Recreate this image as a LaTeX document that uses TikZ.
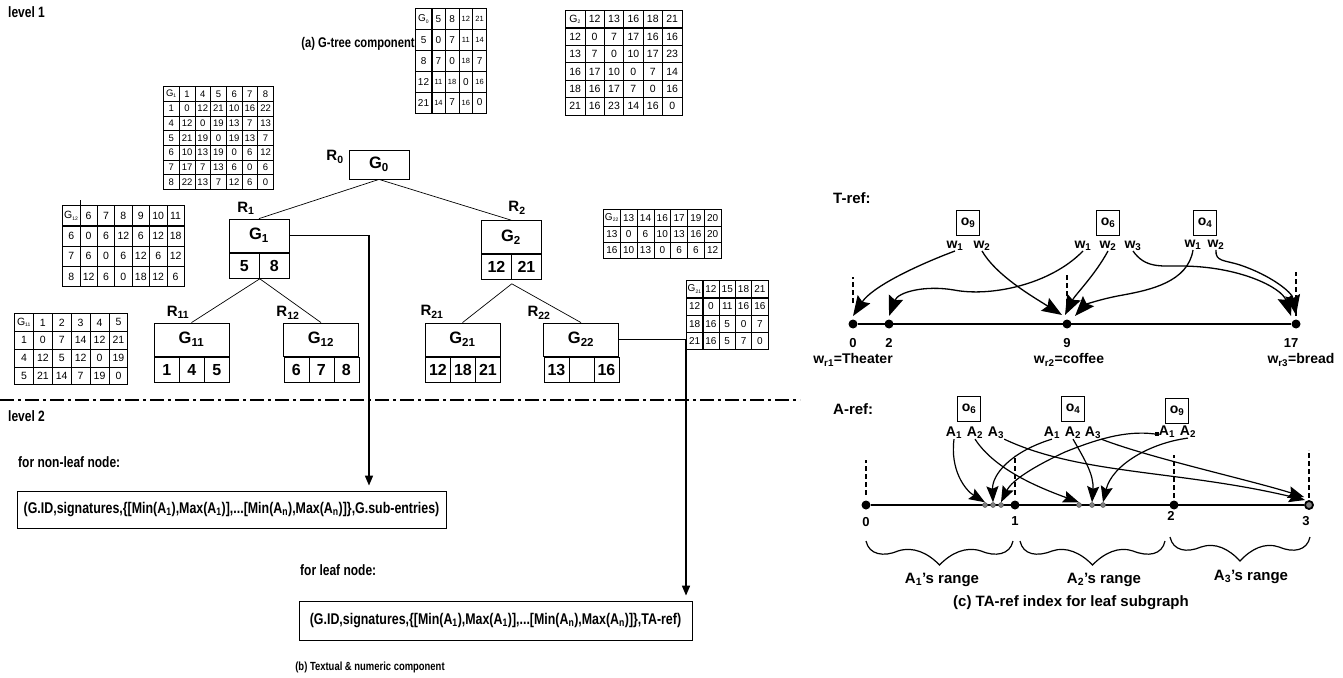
\documentclass[tikz,border=0pt]{standalone}
\usepackage{fontspec}
\setmainfont{Liberation Sans}
\newfontfamily\narrowfont[FakeStretch=0.8]{Liberation Sans}
\usetikzlibrary{matrix,arrows.meta,calc}
\newcommand\smn[1]{{\fontsize{7.5}{7.5}\selectfont #1}}
\newcommand\tsub[1]{\textsubscript{\fontsize{5}{5}\selectfont #1}}
\tikzset{
  bighead/.tip={Stealth[length=20pt,width=15pt,inset=3pt]},
  midhead/.tip={Stealth[length=16pt,width=12pt,inset=2.5pt]},
  feedhead/.tip={Triangle[length=10pt,width=8pt]},
}
\begin{document}
\begin{tikzpicture}[x=1pt,y=-1pt,
  nlab/.style={inner sep=0, font=\narrowfont\fontsize{15}{16}\selectfont\bfseries},
  boxtxt/.style={draw, line width=0.8, inner sep=0, font=\narrowfont\fontsize{15.5}{16}\selectfont\bfseries},
  gbox/.style={draw, line width=0.8, minimum height=33, inner sep=0, font=\fontsize{16.5}{16.5}\selectfont\bfseries},
  gcell/.style={draw, line width=0.8, minimum height=25, inner sep=0, anchor=north west, font=\fontsize{16}{16}\selectfont\bfseries},
  rlab/.style={inner sep=0, font=\fontsize{15}{15}\selectfont\bfseries},
  mat/.style={matrix of nodes, anchor=north west, inner sep=0, column sep=-0.6pt, row sep=-0.6pt,
     nodes={draw, line width=0.7, inner sep=0, anchor=center, font=\fontsize{9.5}{9.5}\selectfont}},
  hsep/.style={line width=1.3},
  tline/.style={line width=0.7},
  feed/.style={line width=1.6, -feedhead},
  rtxt/.style={inner sep=0, font=\fontsize{14}{14}\selectfont\bfseries},
  rnum/.style={inner sep=0, font=\fontsize{13}{13}\selectfont\bfseries},
  rhead/.style={inner sep=0, font=\fontsize{15}{15}\selectfont\bfseries},
  obox/.style={draw, line width=0.8, minimum width=23, minimum height=25, inner sep=0, font=\fontsize{14}{14}\selectfont\bfseries},
  tarr/.style={line width=1.3, -bighead},
  aarr/.style={line width=1.2, -midhead},
  bdot/.style={circle, fill, inner sep=0, minimum size=9},
  sdot/.style={circle, fill=gray, draw=black!70, line width=0.4, inner sep=0, minimum size=5},
  vtick/.style={line width=1.2, dash pattern=on 5pt off 3pt},
  axis/.style={line width=1.4},
  wline/.style={line width=1.2},
]
\useasboundingbox (0,0) rectangle (1343,677);

% ---------------- level 1 ----------------
\node[nlab, anchor=west] (lv1) at (8,12) {level 1};
\node[nlab, font=\narrowfont\fontsize{14}{15}\selectfont\bfseries] (capa) at (358,44) {(a) G-tree component};

% matrices
\matrix (m1) [mat, nodes={minimum width=15.6, minimum height=14.6}] at (163,86) {
G\tsub{1} & 1 & 4 & 5 & 6 & 7 & 8\\
1 & 0 & 12 & 21 & 10 & 16 & 22\\
4 & 12 & 0 & 19 & 13 & 7 & 13\\
5 & 21 & 19 & 0 & 19 & 13 & 7\\
6 & 10 & 13 & 19 & 0 & 6 & 12\\
7 & 17 & 7 & 13 & 6 & 0 & 6\\
8 & 22 & 13 & 7 & 12 & 6 & 0\\
};
\draw[hsep] (m1-1-1.south west) -- (m1-1-7.south east);
\draw[hsep] (m1-1-1.north east) -- (m1-7-1.south east);

\matrix (m0) [mat, nodes={minimum width=13.6, minimum height=20.8, font=\fontsize{10}{10}\selectfont},
  column 1/.style={nodes={minimum width=16}}] at (415,8) {
G\tsub{0} & 5 & 8 & \smn{12} & \smn{21}\\
5 & 0 & 7 & \smn{11} & \smn{14}\\
8 & 7 & 0 & \smn{18} & 7\\
12 & \smn{11} & \smn{18} & 0 & \smn{16}\\
21 & \smn{14} & 7 & \smn{16} & 0\\
};
\draw[hsep] (m0-1-1.north east) -- (m0-5-1.south east);

\matrix (m2) [mat, nodes={minimum width=19.3, minimum height=17.3, font=\fontsize{10.5}{10.5}\selectfont}] at (565,10) {
G\tsub{2} & 12 & 13 & 16 & 18 & 21\\
12 & 0 & 7 & 17 & 16 & 16\\
13 & 7 & 0 & 10 & 17 & 23\\
16 & 17 & 10 & 0 & 7 & 14\\
18 & 16 & 17 & 7 & 0 & 16\\
21 & 16 & 23 & 14 & 16 & 0\\
};
\draw[hsep] (m2-1-1.north east) -- (m2-6-1.south east);

\matrix (m12) [mat, nodes={minimum width=17.3, minimum height=20.2, font=\fontsize{10.5}{10.5}\selectfont}] at (62,205) {
G\tsub{12} & 6 & 7 & 8 & 9 & 10 & 11\\
6 & 0 & 6 & 12 & 6 & 12 & 18\\
7 & 6 & 0 & 6 & 12 & 6 & 12\\
8 & 12 & 6 & 0 & 18 & 12 & 6\\
};
\draw[hsep] (m12-1-1.south west) -- (m12-1-7.south east);
\draw[hsep] ($(m12-1-1.north east)+(0,-5)$) -- (m12-4-1.south east);

\matrix (m11) [mat, nodes={minimum width=18.8, minimum height=17.7, font=\fontsize{10.5}{10.5}\selectfont}] at (14,313) {
G\tsub{11} & 1 & 2 & 3 & 4 & 5\\
1 & 0 & 7 & 14 & 12 & 21\\
4 & 12 & 5 & 12 & 0 & 19\\
5 & 21 & 14 & 7 & 19 & 0\\
};
\draw[hsep] (m11-1-1.south west) -- (m11-1-6.south east);
\draw[hsep] (m11-1-1.north east) -- (m11-4-1.south east);

\matrix (m22) [mat, nodes={minimum width=16.7, minimum height=16.3, font=\fontsize{10}{10}\selectfont}] at (603,209) {
G\tsub{22} & 13 & 14 & 16 & 17 & 19 & 20\\
13 & 0 & 6 & 10 & 13 & 16 & 20\\
16 & 10 & 13 & 0 & 6 & 6 & 12\\
};
\draw[hsep] (m22-1-1.north east) -- (m22-3-1.south east);

\matrix (m21) [mat, nodes={minimum width=16.2, minimum height=17.2, font=\fontsize{10}{10}\selectfont}] at (686,280) {
G\tsub{21} & 12 & 15 & 18 & 21\\
12 & 0 & 11 & 16 & 16\\
18 & 16 & 5 & 0 & 7\\
21 & 16 & 5 & 7 & 0\\
};
\draw[hsep] (m21-1-1.south west) -- (m21-1-5.south east);

% tree
\node[gbox, minimum width=60, minimum height=29] (G0) at (379,164.5) {G\textsubscript{0}};
\node[rlab] (R0) at (335,157) {R\textsubscript{0}};

\node[gbox, minimum width=60] (G1) at (259,235.5) {G\textsubscript{1}};
\node[gcell, minimum width=30] (G1a) at (229,253) {5};
\node[gcell, minimum width=30] (G1b) at (259,253) {8};
\node[rlab] (R1) at (246,208) {R\textsubscript{1}};

\node[gbox, minimum width=60] (G2) at (511,237) {G\textsubscript{2}};
\node[gcell, minimum width=30] (G2a) at (481,254) {12};
\node[gcell, minimum width=30] (G2b) at (511,254) {21};
\node[rlab] (R2) at (517,208) {R\textsubscript{2}};

\node[gbox, minimum width=75] (G11) at (191.5,339.5) {G\textsubscript{11}};
\node[gcell, minimum width=25] (G11a) at (154,357) {1};
\node[gcell, minimum width=25] (G11b) at (179,357) {4};
\node[gcell, minimum width=25] (G11c) at (204,357) {5};
\node[rlab] (R11) at (178,312) {R\textsubscript{11}};

\node[gbox, minimum width=75] (G12) at (321,339.5) {G\textsubscript{12}};
\node[gcell, minimum width=25] (G12a) at (283.5,357) {6};
\node[gcell, minimum width=25] (G12b) at (308.5,357) {7};
\node[gcell, minimum width=25] (G12c) at (333.5,357) {8};
\node[rlab] (R12) at (288,313) {R\textsubscript{12}};

\node[gbox, minimum width=75] (G21) at (462.5,339.5) {G\textsubscript{21}};
\node[gcell, minimum width=25] (G21a) at (425,357) {12};
\node[gcell, minimum width=25] (G21b) at (450,357) {18};
\node[gcell, minimum width=25] (G21c) at (475,357) {21};
\node[rlab] (R21) at (432,312) {R\textsubscript{21}};

\node[gbox, minimum width=75] (G22) at (581,339.5) {G\textsubscript{22}};
\node[gcell, minimum width=25] (G22a) at (543.5,357) {13};
\node[gcell, minimum width=25] (G22b) at (568.5,357) {};
\node[gcell, minimum width=25] (G22c) at (593.5,357) {16};
\node[rlab] (R22) at (539,313) {R\textsubscript{22}};

\draw[tline] (G0.south) -- (G1.north);
\draw[tline] (G0.south) -- (G2.north);
\draw[tline] (G1a.south east) -- (G11.north);
\draw[tline] (G1a.south east) -- (G12.north);
\coordinate (G2j) at ($(G2a.south east)+(0,4)$);
\draw[tline] (G2j) -- (G21.north);
\draw[tline] (G2j) -- (G22.north);

% separator
\coordinate (dl1) at (0,400);
\coordinate (dl2) at (800,400);
\draw[line width=1.3, dash pattern=on 14pt off 4pt on 3pt off 4pt] (dl1) -- (dl2);

% ---------------- level 2 ----------------
\node[nlab, anchor=west] (lv2) at (8,416) {level 2};
\node[nlab, anchor=west] (fnl) at (18,462) {for non-leaf node:};
\node[boxtxt, minimum width=429, minimum height=37] (NL) at (231.5,509.5)
  {(G.ID,signatures,\{[Min(A\textsubscript{1}),Max(A\textsubscript{1})],...[Min(A\textsubscript{n}),Max(A\textsubscript{n})]\},G.sub-entries)};
\node[nlab, anchor=west] (fl) at (300,570) {for leaf node:};
\node[boxtxt, minimum width=393, minimum height=39] (LF) at (495.5,620.5)
  {(G.ID,signatures,\{[Min(A\textsubscript{1}),Max(A\textsubscript{1})],...[Min(A\textsubscript{n}),Max(A\textsubscript{n})]\},TA-ref)};
\node[nlab, font=\narrowfont\fontsize{11.8}{13}\selectfont\bfseries] (capb) at (370,667) {(b) Textual \& numeric component};

\coordinate (c1) at (369,0);
\coordinate (c2) at (686,0);
\draw[feed] (G1.east) -| ($(c1 |- NL.north)+(0,-5)$);
\draw[feed] (G22.east) -| ($(c2 |- LF.north)+(0,-5)$);

% ---------------- T-ref ----------------
\node[rhead, anchor=west] (tref) at (833,198) {T-ref:};
\node[obox] (o9) at (968,223) {o\textsubscript{9}};
\node[obox] (o6) at (1108,223) {o\textsubscript{6}};
\node[obox] (o4) at (1205,223) {o\textsubscript{4}};
\node[rtxt] (o9w1) at (955,246) {w\textsubscript{1}};
\node[rtxt] (o9w2) at (982,246) {w\textsubscript{2}};
\node[rtxt] (o6w1) at (1083,246) {w\textsubscript{1}};
\node[rtxt] (o6w2) at (1108,246) {w\textsubscript{2}};
\node[rtxt] (o6w3) at (1133,246) {w\textsubscript{3}};
\node[rtxt] (o4w1) at (1193,245) {w\textsubscript{1}};
\node[rtxt] (o4w2) at (1216,245) {w\textsubscript{2}};

\node[bdot] (t0) at (853,324) {};
\node[bdot] (t2) at (889,324) {};
\node[bdot] (t9) at (1067,324) {};
\node[bdot] (t17) at (1296,324) {};
\draw[axis] (t0) -- (t17);
\draw[vtick] ($(t0)+(0,-21)$) -- ($(t0)+(0,-47)$);
\draw[vtick] ($(t9)+(0,-12)$) -- ($(t9)+(0,-49)$);
\draw[vtick] ($(t17)+(0,-8)$) -- ($(t17)+(0,-52)$);
\node[rnum] (l0) at (853,343) {0};
\node[rnum] (l2) at (889,343) {2};
\node[rnum] (l9) at (1067,343) {9};
\node[rnum] (l17) at (1291,343) {17};
\node[rtxt] (wr1) at (853,360) {w\textsubscript{r1}=Theater};
\node[rtxt] (wr2) at (1069,360) {w\textsubscript{r2}=coffee};
\node[rtxt] (wr3) at (1301,360) {w\textsubscript{r3}=bread};

\draw[tarr] (o9w1.south) .. controls (915,266) and (872,287) .. ($(t0)+(0,-8)$);
\draw[tarr] (o9w2.south) .. controls (996,275) and (1030,295) .. ($(t9)+(-5,-9)$);
\draw[tarr] (o6w1.south) .. controls (1050,285) and (990,297) .. (954,290) .. controls (925,285) and (898,292) .. ($(t2)+(0,-8)$);
\draw[tarr] (o6w2.south) .. controls (1095,275) and (1075,295) .. ($(t9)+(-2,-9)$);
\draw[tarr] (o6w3.south) .. controls (1145,268) and (1160,266) .. (1180,266) .. controls (1240,266) and (1282,288) .. ($(t17)+(-5,-8)$);
\draw[tarr] (o4w1.south) .. controls (1188,282) and (1150,290) .. (1123,295) .. controls (1100,299) and (1085,305) .. ($(t9)+(8,-8)$);
\draw[tarr] (o4w2.south) .. controls (1215,262) and (1225,260) .. (1240,265) .. controls (1270,275) and (1292,292) .. ($(t17)+(0,-9)$);

% ---------------- A-ref ----------------
\node[rhead, anchor=west] (aref) at (833,409) {A-ref:};
\node[obox] (p6) at (969,409) {o\textsubscript{6}};
\node[obox] (p4) at (1073,409) {o\textsubscript{4}};
\node[obox] (p9) at (1177,411) {o\textsubscript{9}};
\node[rtxt] (p6a1) at (954,433) {A\textsubscript{1}};
\node[rtxt] (p6a2) at (975,433) {A\textsubscript{2}};
\node[rtxt] (p6a3) at (996,433) {A\textsubscript{3}};
\node[rtxt] (p4a1) at (1052,433) {A\textsubscript{1}};
\node[rtxt] (p4a2) at (1073,433) {A\textsubscript{2}};
\node[rtxt] (p4a3) at (1093,433) {A\textsubscript{3}};
\node[rtxt] (p9a1) at (1167,432) {A\textsubscript{1}};
\node[rtxt] (p9a2) at (1188,432) {A\textsubscript{2}};
\node[fill, inner sep=0, minimum size=3.5] (sq) at (1157,434) {};

\node[bdot] (a0) at (866,505) {};
\node[bdot] (a1) at (1015,505) {};
\node[bdot] (a2) at (1174,505) {};
\node[circle, fill=gray, draw=black, line width=1.8, inner sep=0, minimum size=8] (a3) at (1309,505) {};
\draw[axis] (a0) -- (a3);
\node[sdot] (g1) at (985,505) {};
\node[sdot] (g2) at (993,505) {};
\node[sdot] (g3) at (1001,505) {};
\node[sdot] (h1) at (1079,505) {};
\node[sdot] (h2) at (1092,505) {};
\node[sdot] (h3) at (1103,505) {};
\draw[vtick] ($(a0)+(0,-10)$) -- ($(a0)+(0,-45)$);
\draw[vtick] ($(a1)+(0,-10)$) -- ($(a1)+(0,-50)$);
\draw[vtick] ($(a2)+(0,-7)$) -- ($(a2)+(0,-50)$);
\draw[vtick] ($(a3)+(0,-7)$) -- ($(a3)+(0,-55)$);
\node[rnum] (n0) at (866,522) {0};
\node[rnum] (n1) at (1015,521) {1};
\node[rnum] (n2) at (1171,516) {2};
\node[rnum] (n3) at (1306,521) {3};

\draw[aarr] (p6a1.south) .. controls (950,470) and (965,490) .. (g1.north);
\draw[aarr] (p6a2.south) .. controls (995,470) and (1040,488) .. (h1.north);
\draw[aarr] (p6a3.south east) .. controls (1080,475) and (1180,470) .. ($(a3)+(-4,-5)$);
\draw[aarr] (p4a1.south) .. controls (1010,452) and (992,475) .. (g2.north);
\draw[aarr] (p4a2.south) .. controls (1085,460) and (1094,475) .. (h2.north);
\draw[aarr] (p4a3.south east) .. controls (1150,458) and (1250,480) .. ($(a3)+(-5,-8)$);
\draw[aarr] (sq.west) .. controls (1125,430) and (1095,440) .. (1065,452) .. controls (1035,466) and (1012,480) .. (g3.north);
\draw[aarr] (p9a2.south) .. controls (1150,443) and (1112,465) .. (h3.north);

% wavy braces
\draw[wline] (866,541) .. controls (869,555) and (884,557) .. (898,551) .. controls (913,546) and (928,553) .. (939.5,565)
  .. controls (951,553) and (966,546) .. (981,551) .. controls (995,557) and (1010,555) .. (1013,541);
\draw[wline] (1020,541) .. controls (1023,555) and (1037,557) .. (1052,551) .. controls (1066,546) and (1081,553) .. (1092.5,565)
  .. controls (1104,553) and (1119,546) .. (1133,551) .. controls (1148,557) and (1162,555) .. (1165,541);
\draw[wline] (1170,537) .. controls (1173,551) and (1187,553) .. (1201,547) .. controls (1215,542) and (1229,549) .. (1240,561)
  .. controls (1251,549) and (1265,542) .. (1279,547) .. controls (1293,553) and (1307,551) .. (1310,537);
\node[rhead] (ra1) at (942,580) {A\textsubscript{1}'s range};
\node[rhead] (ra2) at (1104,580) {A\textsubscript{2}'s range};
\node[rhead] (ra3) at (1251,577) {A\textsubscript{3}'s range};
\node[rhead] (capc) at (1071,603) {(c) TA-ref index for leaf subgraph};
\end{tikzpicture}
\end{document}
